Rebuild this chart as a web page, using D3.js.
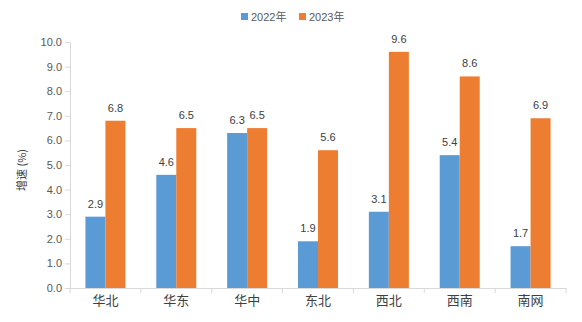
<!DOCTYPE html>
<html><head><meta charset="utf-8">
<script src="https://cdn.jsdelivr.net/npm/d3@7/dist/d3.min.js"></script>
<style>body{margin:0;background:#fff}svg{display:block}text{font-family:"Liberation Sans","Noto Sans CJK SC",sans-serif}</style>
</head><body><svg id="c" width="582" height="322"></svg>
<script>
const categories = ["华北","华东","华中","东北","西北","西南","南网"];
const seriesNames = ["2022年","2023年"];
const values2022 = [2.9,4.6,6.3,1.9,3.1,5.4,1.7];
const values2023 = [6.8,6.5,6.5,5.6,9.6,8.6,6.9];
const yTicks = [0,1,2,3,4,5,6,7,8,9,10];
const colors = ["#5B9BD5","#ED7D31"];

const svg = d3.select("#c");
const m = {l:70, r:16, t:42, b:34};
const W = 582, H = 322;
const x = d3.scaleBand().domain(categories).range([m.l, W - m.r]).paddingInner(0).paddingOuter(0);
const x1 = d3.scaleBand().domain(seriesNames).range([0, 40]);
const y = d3.scaleLinear().domain([0,10]).range([H - m.b, m.t]);
const off = (x.bandwidth() - 40) / 2;

// y axis
const ya = svg.append("g").attr("transform", `translate(${m.l},0)`)
  .call(d3.axisLeft(y).tickValues(yTicks).tickSize(5).tickSizeOuter(0).tickFormat(d3.format(".1f")));
ya.select(".domain").attr("stroke","#d9d9d9");
ya.selectAll(".tick line").attr("stroke","#d9d9d9");
ya.selectAll(".tick text").attr("fill","#595959").attr("font-size","11px").attr("x",-8);

// x axis
const xa = svg.append("g").attr("transform", `translate(0,${H - m.b})`)
  .call(d3.axisBottom(x).tickSize(0).tickSizeOuter(0));
xa.select(".domain").attr("stroke","#d9d9d9");
xa.selectAll(".tick text").attr("fill","#404040").attr("font-size","13px").attr("dy","1.1em")
  .style("font-family","'Noto Sans CJK SC',sans-serif");
// boundary ticks
const bounds = categories.map(c => x(c)).concat([x(categories[categories.length-1]) + x.bandwidth()]);
svg.append("g").selectAll("line").data(bounds).join("line")
  .attr("x1", d=>d).attr("x2", d=>d).attr("y1", H - m.b).attr("y2", H - m.b + 5)
  .attr("stroke","#d9d9d9");

const data = [values2022, values2023];
data.forEach((vals, si) => {
  const g = svg.append("g");
  g.selectAll("rect").data(vals).join("rect")
    .attr("x", (d,i) => x(categories[i]) + off + x1(seriesNames[si]))
    .attr("width", x1.bandwidth())
    .attr("y", d => y(d))
    .attr("height", d => y(0) - y(d))
    .attr("fill", colors[si]);
  g.selectAll("text").data(vals).join("text")
    .attr("x", (d,i) => x(categories[i]) + off + x1(seriesNames[si]) + x1.bandwidth()/2)
    .attr("y", d => y(d) - 9)
    .attr("text-anchor","middle")
    .attr("fill","#404040").attr("font-size","11px")
    .text(d => d.toFixed(1));
});

// y title
svg.append("text").attr("transform", `translate(26,170) rotate(-90)`)
  .attr("text-anchor","middle").attr("fill","#404040").attr("font-size","11px")
  .style("font-family","'Noto Sans CJK SC',sans-serif").text("增速 (%)");

// legend
const lg = svg.append("g").attr("transform","translate(241,13)");
seriesNames.forEach((s,i) => {
  const gx = i * 58;
  lg.append("rect").attr("x", gx).attr("y", 0).attr("width", 7).attr("height", 7).attr("fill", colors[i]);
  lg.append("text").attr("x", gx + 10).attr("y", 8).attr("fill","#595959").attr("font-size","11px").text(s);
});
</script></body></html>
